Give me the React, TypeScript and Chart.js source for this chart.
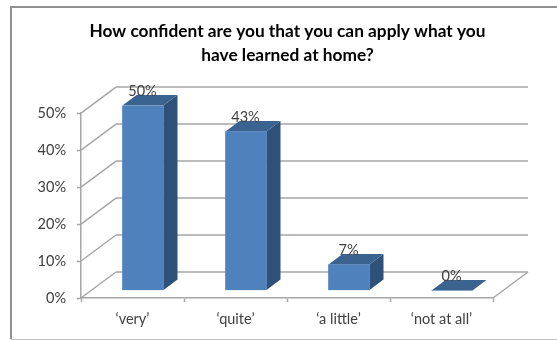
import { useEffect, useRef } from "react";
import { Chart, registerables } from "chart.js";

Chart.register(...registerables);

const categories = ["‘very’", "‘quite’", "‘a little’", "‘not at all’"];
const responseShares = [50, 43, 7, 0];
const titleLines = ["How confident are you that you can apply what you", "have learned at home?"];

const FONT = "Lato, 'Open Sans', sans-serif";
const GRID = "#a6a6a6";
const FRONT = "#4f81bd";
const SIDE = "#2f5078";
const TOP = "#3b6390";
const LABEL = "#404040";

// Projection of the box: wall depth, and the bars' place halfway along it.
const WALL_DX = 35;
const WALL_DY = -26;
const BAR_SHIFT_X = 10.5;
const BAR_SHIFT_Y = -7.5;
const BAR_DX = 14;
const BAR_DY = -10.5;

const polygon = (ctx: CanvasRenderingContext2D, pts: number[][], fill: string) => {
  ctx.beginPath();
  pts.forEach(([x, y], i) => (i ? ctx.lineTo(x, y) : ctx.moveTo(x, y)));
  ctx.closePath();
  ctx.fillStyle = fill;
  ctx.fill();
};

const line = (ctx: CanvasRenderingContext2D, x1: number, y1: number, x2: number, y2: number) => {
  ctx.beginPath();
  ctx.moveTo(x1, y1);
  ctx.lineTo(x2, y2);
  ctx.stroke();
};

const box3d = {
  id: "box3d",
  afterLayout(chart: any) {
    // The heading sits centred over the plot's frame, not over the padded layout box.
    chart.titleBlock.left += 41;
    chart.titleBlock.right += 41;
  },
  beforeDatasetsDraw(chart: any) {
    const { ctx, scales } = chart;
    const { x: xs, y: ys } = scales;
    const left = xs.left;
    const right = xs.right;
    const bottom = ys.bottom;

    ctx.save();
    // Outer frame of the graphic: heavier on the top and left edges.
    ctx.strokeStyle = "#909090";
    ctx.lineWidth = 2;
    ctx.beginPath();
    ctx.moveTo(557, 7);
    ctx.lineTo(11, 7);
    ctx.lineTo(11, 339);
    ctx.stroke();
    ctx.strokeStyle = "#c0c0c0";
    ctx.lineWidth = 1;
    line(ctx, 11, 339.5, 557, 339.5);

    // Back wall, side wall and floor.
    ctx.strokeStyle = GRID;
    ctx.lineWidth = 1.5;
    ys.ticks.forEach((t: any) => {
      const y = ys.getPixelForValue(t.value);
      line(ctx, left, y, left + WALL_DX, y + WALL_DY);
      line(ctx, left + WALL_DX, y + WALL_DY, right + WALL_DX, y + WALL_DY);
    });
    line(ctx, right, bottom, right + WALL_DX, bottom + WALL_DY);

    // Side and top faces of each bar.
    const bars = chart.getDatasetMeta(0).data;
    bars.forEach((bar: any) => {
      const l = bar.x - bar.width / 2 + BAR_SHIFT_X;
      const r = l + bar.width;
      const t = bar.y + BAR_SHIFT_Y;
      const b = bar.base + BAR_SHIFT_Y;
      polygon(ctx, [[r, t], [r + BAR_DX, t + BAR_DY], [r + BAR_DX, b + BAR_DY], [r, b]], SIDE);
      polygon(ctx, [[l, t], [l + BAR_DX, t + BAR_DY], [r + BAR_DX, t + BAR_DY], [r, t]], TOP);
    });
    ctx.restore();

    ctx.save();
    ctx.translate(BAR_SHIFT_X, BAR_SHIFT_Y);
  },
  afterDatasetsDraw(chart: any) {
    const { ctx } = chart;
    ctx.restore();

    // Value labels above each bar.
    ctx.save();
    ctx.font = `14.5px ${FONT}`;
    ctx.fillStyle = LABEL;
    ctx.textAlign = "center";
    ctx.textBaseline = "middle";
    chart.getDatasetMeta(0).data.forEach((bar: any, i: number) => {
      ctx.fillText(`${responseShares[i]}%`, bar.x + BAR_SHIFT_X - 0.5, bar.y + BAR_SHIFT_Y - 14);
    });
    ctx.restore();
  },
};

export default function App() {
  const ref = useRef<HTMLCanvasElement>(null);

  useEffect(() => {
    document.body.style.margin = "0";
    document.body.style.background = "#fff";
    const chart = new Chart(ref.current!, {
      type: "bar",
      data: {
        labels: categories,
        datasets: [
          {
            data: responseShares,
            backgroundColor: FRONT,
            borderWidth: 0,
            barThickness: 41,
          },
        ],
      },
      plugins: [box3d],
      options: {
        responsive: false,
        animation: false,
        events: [],
        layout: { padding: { left: 0, right: 64, top: 0, bottom: 0 } },
        plugins: {
          legend: { display: false },
          tooltip: { enabled: false },
          title: {
            display: true,
            text: titleLines,
            color: "#000000",
            font: { family: FONT, size: 17.3, weight: "bold", lineHeight: 1.39 },
            padding: { top: 19, bottom: 46 },
          },
        },
        scales: {
          x: {
            afterFit: (s: any) => {
              s.height = 42;
            },
            border: { color: GRID, width: 1.5 },
            grid: { drawOnChartArea: false, tickLength: 4, tickColor: GRID, tickWidth: 1.5 },
            ticks: { color: LABEL, font: { family: FONT, size: 14.5 }, padding: 9, maxRotation: 0 },
          },
          y: {
            min: 0,
            max: 50,
            afterFit: (s: any) => {
              s.width = 81;
            },
            border: { color: GRID, width: 1.5 },
            grid: { drawOnChartArea: false, tickLength: 4, tickColor: GRID, tickWidth: 1.5 },
            ticks: {
              stepSize: 10,
              color: LABEL,
              font: { family: FONT, size: 14.5 },
              padding: 11,
              callback: (v: any) => `${v}%`,
            },
          },
        },
      },
    } as any);
    return () => chart.destroy();
  }, []);

  return (
    <canvas
      ref={ref}
      width={557}
      height={340}
      style={{ display: "block", width: 557, height: 340, background: "#fff" }}
    />
  );
}
